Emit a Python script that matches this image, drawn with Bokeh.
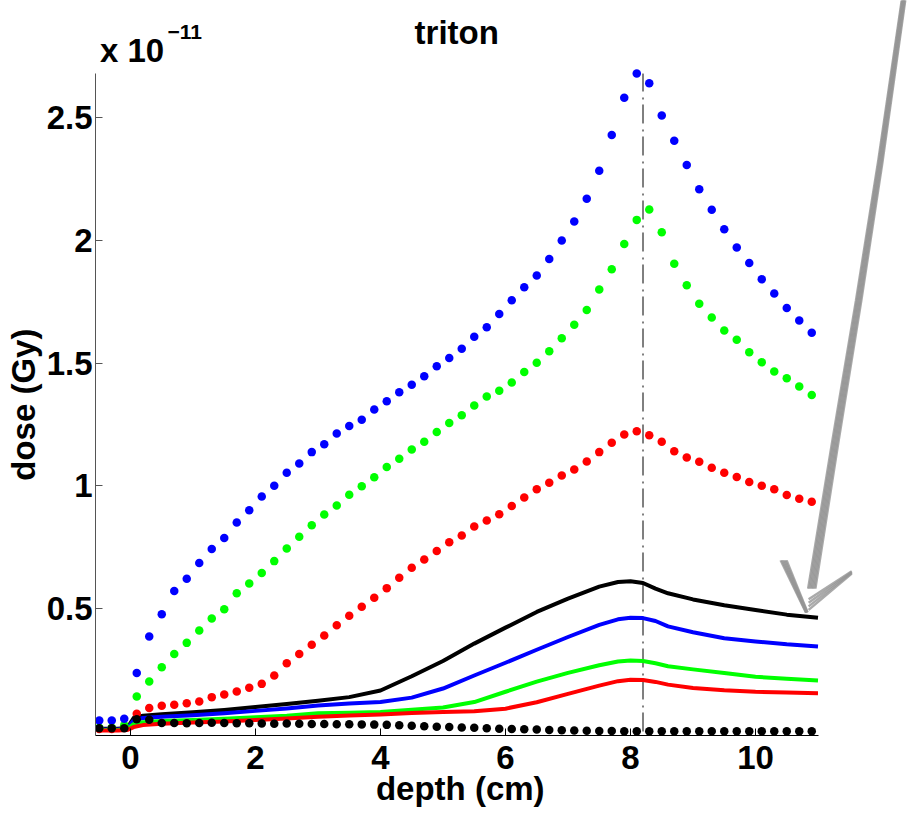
import math
from bokeh.plotting import figure
from bokeh.models import Range1d, FixedTicker
from bokeh.core.properties import value
from bokeh.embed import file_html
from bokeh.resources import INLINE

FONT = "Liberation Sans"

# ---------------- data (dose in units of 1e-11 Gy) ----------------
depth_dots = [-0.5, -0.3, -0.1, 0.1, 0.3, 0.5, 0.7, 0.9, 1.1, 1.3, 1.5, 1.7, 1.9, 2.1, 2.3,
              2.5, 2.7, 2.9, 3.1, 3.3, 3.5, 3.7, 3.9, 4.1, 4.3, 4.5, 4.7, 4.9, 5.1, 5.3,
              5.5, 5.7, 5.9, 6.1, 6.3, 6.5, 6.7, 6.9, 7.1, 7.3, 7.5, 7.7, 7.9, 8.1, 8.3,
              8.5, 8.7, 8.9, 9.1, 9.3, 9.5, 9.7, 9.9, 10.1, 10.3, 10.5, 10.7, 10.9]

blue_dots = [0.045, 0.045, 0.052, 0.238, 0.387, 0.478, 0.572, 0.622, 0.686, 0.743, 0.788,
             0.851, 0.901, 0.957, 1.001, 1.054, 1.092, 1.138, 1.170, 1.214, 1.244, 1.270,
             1.312, 1.345, 1.382, 1.412, 1.447, 1.488, 1.521, 1.559, 1.608, 1.647, 1.701,
             1.757, 1.810, 1.857, 1.925, 2.000, 2.077, 2.170, 2.284, 2.430, 2.581, 2.680,
             2.641, 2.509, 2.406, 2.308, 2.209, 2.125, 2.046, 1.971, 1.908, 1.842, 1.784,
             1.725, 1.674, 1.624]

green_dots = [0.015, 0.015, 0.025, 0.143, 0.204, 0.262, 0.316, 0.361, 0.411, 0.460, 0.498,
              0.563, 0.603, 0.646, 0.694, 0.745, 0.793, 0.840, 0.884, 0.921, 0.964, 0.999,
              1.036, 1.077, 1.111, 1.149, 1.180, 1.220, 1.257, 1.288, 1.328, 1.365, 1.388,
              1.422, 1.464, 1.502, 1.549, 1.602, 1.657, 1.717, 1.800, 1.883, 1.986, 2.084,
              2.126, 2.034, 1.905, 1.818, 1.742, 1.686, 1.633, 1.596, 1.545, 1.504, 1.466,
              1.439, 1.405, 1.371]

red_dots = [0.010, 0.010, 0.015, 0.072, 0.096, 0.105, 0.109, 0.115, 0.122, 0.140, 0.151,
            0.163, 0.178, 0.194, 0.228, 0.278, 0.316, 0.353, 0.391, 0.433, 0.471, 0.508,
            0.545, 0.584, 0.626, 0.667, 0.701, 0.735, 0.771, 0.798, 0.835, 0.859, 0.885,
            0.919, 0.953, 0.987, 1.013, 1.043, 1.067, 1.100, 1.138, 1.176, 1.210, 1.223,
            1.207, 1.180, 1.142, 1.116, 1.099, 1.074, 1.054, 1.037, 1.016, 1.001, 0.987,
            0.963, 0.948, 0.936]

black_dots = [0.013, 0.013, 0.013, 0.050, 0.048, 0.035, 0.035, 0.034, 0.035, 0.036, 0.035,
              0.034, 0.034, 0.033, 0.032, 0.033, 0.032, 0.031, 0.031, 0.030, 0.030, 0.029,
              0.028, 0.027, 0.025, 0.023, 0.021, 0.019, 0.018, 0.016, 0.015, 0.013, 0.011,
              0.010, 0.009, 0.008, 0.006, 0.005, 0.004, 0.003, 0.002, 0.002, 0.001, 0.001,
              0.001, 0.001, 0.001, 0.001, 0.001, 0.001, 0.001, 0.001, 0.001, 0.001, 0.001,
              0.001, 0.001, 0.001]

depth_lines = [-0.5, -0.2, -0.05, 0.05, 0.2, 0.5, 1.0, 1.5, 2.0, 2.5, 3.0, 3.5, 4.0, 4.5,
               5.0, 5.5, 6.0, 6.5, 7.0, 7.5, 7.8, 8.0, 8.2, 8.4, 8.6, 9.0, 9.5, 10.0, 10.5, 11.0]

black_line = [0.011, 0.011, 0.015, 0.055, 0.064, 0.070, 0.078, 0.088, 0.100, 0.112, 0.125,
              0.140, 0.167, 0.225, 0.287, 0.358, 0.423, 0.487, 0.541, 0.590, 0.609, 0.612,
              0.605, 0.582, 0.563, 0.538, 0.514, 0.495, 0.476, 0.463]
blue_line = [0.008, 0.008, 0.012, 0.045, 0.055, 0.060, 0.066, 0.074, 0.084, 0.094, 0.106,
             0.114, 0.120, 0.138, 0.175, 0.228, 0.280, 0.333, 0.385, 0.434, 0.457, 0.463,
             0.462, 0.450, 0.428, 0.404, 0.380, 0.367, 0.355, 0.346]
green_line = [0.006, 0.006, 0.010, 0.030, 0.038, 0.043, 0.047, 0.052, 0.058, 0.064, 0.074,
              0.076, 0.079, 0.089, 0.098, 0.120, 0.162, 0.203, 0.239, 0.270, 0.285, 0.289,
              0.287, 0.278, 0.266, 0.253, 0.238, 0.223, 0.215, 0.208]
red_line = [0.004, 0.004, 0.006, 0.018, 0.026, 0.032, 0.037, 0.041, 0.047, 0.053, 0.060,
            0.065, 0.069, 0.075, 0.079, 0.082, 0.093, 0.119, 0.153, 0.187, 0.205, 0.211,
            0.210, 0.202, 0.191, 0.177, 0.168, 0.162, 0.159, 0.156]

peak_depth = 8.2

x_ticks = [0, 2, 4, 6, 8, 10]
x_tick_labels = ["0", "2", "4", "6", "8", "10"]
y_ticks = [0.5, 1.0, 1.5, 2.0, 2.5]
y_tick_labels = ["0.5", "1", "1.5", "2", "2.5"]

# hand-drawn annotation arrow (data units)
arrow_shaft_x = [12.38, 12.0, 11.65, 11.28, 10.90]
arrow_shaft_y = [3.0, 2.326, 1.755, 1.185, 0.582]
arrow_left_x = [10.45, 10.82]
arrow_left_y = [0.697, 0.485]
arrow_right_x = [11.54, 10.85]
arrow_right_y = [0.648, 0.517]

assert len(depth_dots) == len(blue_dots) == len(green_dots) == len(red_dots) == len(black_dots)
assert len(depth_lines) == len(black_line) == len(blue_line) == len(green_line) == len(red_line)

# ---------------- figure ----------------
X0, X1 = -0.56, 12.432
Y0, Y1 = -0.0163, 2.9776
X_AX_END = 11.0
Y_AX_END = max(blue_dots)

p = figure(width=907, height=812, output_backend="svg", toolbar_location=None,
           x_range=Range1d(X0, X1), y_range=Range1d(Y0, Y1),
           min_border_left=95, min_border_right=0, min_border_top=0, min_border_bottom=77)
p.outline_line_color = None
p.xgrid.visible = False
p.ygrid.visible = False
p.background_fill_color = "white"
p.border_fill_color = "white"

TXT = "33px"
NB = "\u00a0"

xa = p.xaxis[0]
xa.ticker = FixedTicker(ticks=x_ticks)
xa.major_label_overrides = {t: l for t, l in zip(x_ticks, x_tick_labels)}
xa.bounds = (X0, X_AX_END)
xa.major_tick_in = 7
xa.major_tick_out = 0
xa.minor_tick_in = 0
xa.minor_tick_out = 0
xa.axis_line_color = "black"
xa.major_tick_line_color = "black"
xa.major_label_standoff = 10
xa.major_label_text_font = FONT
xa.major_label_text_font_style = "bold"
xa.major_label_text_font_size = TXT
xa.major_label_text_color = "black"
# label centred under the axis line (not the wider frame): pad on the right
xa.axis_label = "depth (cm)" + NB * 9
xa.axis_label_standoff = -2
xa.axis_label_text_font = FONT
xa.axis_label_text_font_style = "bold"
xa.axis_label_text_font_size = TXT
xa.axis_label_text_color = "black"

ya = p.yaxis[0]
ya.ticker = FixedTicker(ticks=y_ticks)
ya.major_label_overrides = {t: l for t, l in zip(y_ticks, y_tick_labels)}
ya.bounds = (Y0, Y_AX_END)
ya.major_tick_in = 7
ya.major_tick_out = 0
ya.minor_tick_in = 0
ya.minor_tick_out = 0
ya.axis_line_color = "#555555"
ya.major_tick_line_color = "#555555"
ya.major_label_standoff = 3
ya.major_label_text_font = FONT
ya.major_label_text_font_style = "bold"
ya.major_label_text_font_size = TXT
ya.major_label_text_color = "black"
ya.axis_label = "dose (Gy)" + NB * 8
ya.axis_label_standoff = 2
ya.axis_label_text_font = FONT
ya.axis_label_text_font_style = "bold"
ya.axis_label_text_font_size = TXT
ya.axis_label_text_color = "black"

# vertical dash-dot marker at the peak
p.line([peak_depth, peak_depth], [0, Y_AX_END], line_color="black", line_width=1,
       line_dash="19 5 2 6")

# solid lines
for ys, col in [(black_line, "black"), (blue_line, "#0000ff"),
                (green_line, "#00ff00"), (red_line, "#ff0000")]:
    p.line(depth_lines, ys, line_color=col, line_width=4, line_join="round")

# dotted series
for ys, col in [(red_dots, "#ff0000"), (green_dots, "#00ff00"),
                (blue_dots, "#0000ff"), (black_dots, "black")]:
    p.scatter(depth_dots, ys, size=8.5, fill_color=col, line_color=None)

# title and exponent texts
mid_x = (X0 + X_AX_END) / 2
p.text(x=[mid_x], y=[2.846], text=["triton"], text_align="center", text_baseline="alphabetic",
       text_font=value(FONT), text_font_style="bold", text_font_size=value(TXT),
       text_color="black")
p.text(x=[-0.49], y=[2.775], text=["x 10"], text_align="left", text_baseline="alphabetic",
       text_font=value(FONT), text_font_style="bold", text_font_size=value(TXT),
       text_color="black")
p.text(x=[0.59], y=[2.850], text=["\u221211"], text_align="left", text_baseline="alphabetic",
       text_font=value(FONT), text_font_style="bold", text_font_size=value("21px"),
       text_color="black")

# sketchy gray arrow
ARROW = "#959595"
n = len(arrow_shaft_x)
for off in [-0.06, -0.04, -0.02, 0.0, 0.02, 0.04, 0.06]:
    xs = [arrow_shaft_x[i] + off * (0.5 + 0.5 * i / (n - 1)) for i in range(n)]
    p.line(xs, arrow_shaft_y, line_color=ARROW, line_width=2.2, line_alpha=0.8)
for off in [-0.05, -0.03, -0.01, 0.01, 0.03, 0.05]:
    p.line([arrow_left_x[0] + off, arrow_left_x[1] + off * 0.3],
           [arrow_left_y[0], arrow_left_y[1]], line_color=ARROW, line_width=2.2, line_alpha=0.8)
for off in [-0.012, -0.004, 0.004, 0.012]:
    p.line([arrow_right_x[0], arrow_right_x[1]],
           [arrow_right_y[0] + off * 0.4, arrow_right_y[1] + off * 1.8],
           line_color=ARROW, line_width=2.4, line_alpha=0.8)

open("out.html", "w").write(file_html(p, INLINE))
